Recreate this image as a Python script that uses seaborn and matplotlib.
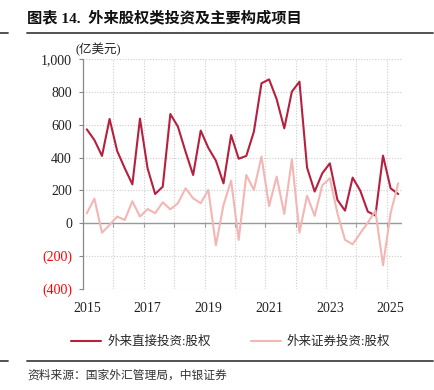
import numpy as np
import pandas as pd
import seaborn as sns
import matplotlib.pyplot as plt
from matplotlib.lines import Line2D

# quarterly, 2015Q1 - 2025Q2 (亿美元)
fdi_equity = [572, 507, 410, 635, 440, 335, 237, 637,
              335, 178, 223, 665, 588, 436, 294, 564,
              459, 381, 243, 537, 393, 410, 558, 852,
              876, 755, 578, 801, 862, 339, 193, 304,
              365, 142, 77, 278, 199, 71, 47, 412,
              213, 178]
portfolio_equity = [61, 150, -57, -10, 41, 20, 134, 41,
                    87, 61, 128, 85, 122, 213, 152, 122,
                    203, -134, 112, 260, -101, 294, 203, 406,
                    105, 284, 57, 389, -57, 168, 45, 231,
                    274, 61, -101, -128, -61, 4, 77, -256,
                    61, 243]
year_labels = ["2015", "2017", "2019", "2021", "2023", "2025"]
y_ticks = [-400, -200, 0, 200, 400, 600, 800, 1000]
y_labels = ["(400)", "(200)", "0", "200", "400", "600", "800", "1,000"]
series_names = ["外来直接投资:股权", "外来证券投资:股权"]

n = len(fdi_equity)
df = pd.DataFrame({
    "q": list(range(n)) * 2,
    "value": fdi_equity + portfolio_equity,
    "series": [series_names[0]] * n + [series_names[1]] * n,
})

sns.set_style("white")
plt.rcParams["font.family"] = ["Liberation Serif", "Noto Sans CJK SC", "DejaVu Sans"]

fig = plt.figure(figsize=(4.35, 3.9), dpi=100)
ax = fig.add_axes([83 / 435, 1 - 289 / 390, (402 - 83) / 435, (289 - 59) / 390])

palette = {series_names[0]: "#B5203F", series_names[1]: "#F4B6B4"}
sns.lineplot(data=df, x="q", y="value", hue="series", palette=palette,
             linewidth=1.5, ax=ax, legend=False)

ymin, ymax = -400, 1000
ax.set_xlim(-0.5, n - 0.5)
ax.set_ylim(ymin, ymax)
ax.set_xlabel("")
ax.set_ylabel("")

ax.set_yticks(y_ticks)
ax.set_yticklabels(y_labels, fontsize=10)
for lab, v in zip(ax.get_yticklabels(), y_ticks):
    lab.set_color("red" if v < 0 else "#222222")

ax.set_xticks(list(range(0, n, 8)))
ax.set_xticklabels(year_labels, fontsize=10, color="#222222")
ax.set_xticks(list(np.arange(3.5, n - 1, 4)), minor=True)
ax.tick_params(axis="x", which="both", length=0, pad=9)
ax.tick_params(axis="y", length=3, width=0.8, color="#888888", direction="out", pad=5, left=True)

ax.grid(False)
ax.grid(axis="y", which="major", linestyle=(0, (1, 1.5)), color="#CCCCCC", linewidth=0.8)
ax.grid(axis="x", which="minor", linestyle=(0, (1, 1.5)), color="#CCCCCC", linewidth=0.8)
ax.set_axisbelow(True)

for s in ["top", "right", "bottom"]:
    ax.spines[s].set_visible(False)
ax.spines["left"].set_color("#888888")
ax.spines["left"].set_linewidth(0.9)

# zero axis with small ticks at year boundaries
ax.axhline(0, color="#999999", linewidth=1.0, zorder=1.5)
sec = ax.secondary_xaxis((0 - ymin) / (ymax - ymin))
sec.set_xticks(list(np.arange(3.5, n - 1, 4)))
sec.set_xticklabels([])
sec.tick_params(length=3, width=0.8, color="#888888", direction="out")
sec.spines["bottom"].set_visible(False)

# legend
handles = [Line2D([], [], color=palette[s], linewidth=1.5) for s in series_names]
fig.legend(handles, series_names, loc="center", bbox_to_anchor=(0.53, 1 - 342 / 390),
           ncol=2, frameon=False, fontsize=9, handlelength=2.4, columnspacing=3.2,
           handletextpad=0.5)

# unit
fig.text(76 / 435, 1 - 50 / 390, "(亿美元)", fontsize=9, va="center", ha="left", color="#222222")

# title and rules
fig.text(27 / 435, 1 - 18 / 390, "图表 14.  外来股权类投资及主要构成项目", fontsize=11,
         fontweight="bold", va="center", ha="left", color="#111111")
for yy in [1 - 33 / 390, 1 - 361 / 390]:
    fig.add_artist(Line2D([27 / 435, 433 / 435], [yy, yy], color="#444444", linewidth=1.3))
    fig.add_artist(Line2D([0, 8 / 435], [yy, yy], color="#444444", linewidth=1.3))

fig.text(27 / 435, 1 - 376 / 390, "资料来源：国家外汇管理局，中银证券", fontsize=8.5,
         va="center", ha="left", color="#333333")

fig.savefig("out.png", dpi=100)
